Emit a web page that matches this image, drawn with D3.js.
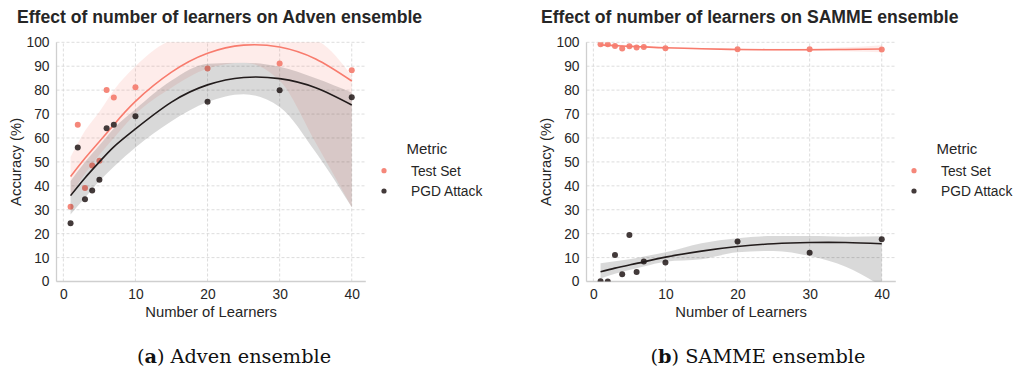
<!DOCTYPE html>
<html>
<head>
<meta charset="utf-8">
<script src="https://cdn.jsdelivr.net/npm/d3@7"></script>
<style>
  body { margin: 0; background: #fff; }
  svg { display: block; }
</style>
</head>
<body>
<div id="chart"></div>
<script>
// number of learners in the ensemble
const learners = [1, 2, 3, 4, 5, 6, 7, 10, 20, 30, 40];

// scatter values (accuracy %)
const advenTest = [31.3, 65.5, 39.1, 48.5, 50.5, 80.1, 76.9, 81.2, 89.0, 91.1, 88.3];
const advenPgd = [24.4, 56.0, 34.4, 38.0, 42.5, 64.1, 65.5, 69.1, 75.1, 80.0, 77.0];
const sammeTest = [99.2, 99.2, 98.5, 97.4, 98.4, 97.8, 98.0, 97.5, 97.1, 97.1, 97.0];
const sammePgd = [0.1, 0.0, 11.1, 3.0, 19.4, 4.0, 8.4, 7.9, 16.7, 12.0, 17.7];

// regression curves and confidence bands
const fitX = [1, 3, 5, 7, 10, 15, 20, 25, 30, 35, 40];
const advenTestFit = [43.9, 51.5, 58.5, 65.5, 75.3, 87.5, 95.4, 98.8, 98.0, 93.0, 83.8];
const advenTestLo = [36, 45, 53, 60, 70, 81, 89, 91.5, 84, 58, 31];
const advenTestHi = [52, 63, 71, 80, 90, 101, 104, 106, 104, 101, 86];
const advenPgdFit = [35.9, 43.3, 50.0, 56.3, 63.8, 75.0, 82.2, 85.3, 84.8, 81.0, 73.8];
const advenPgdLo = [28, 35, 42, 48, 56, 67, 75, 78.3, 73, 54, 31];
const advenPgdHi = [42, 50, 57, 64, 72, 84, 91, 91.5, 89.8, 85, 79];

const sammeTestFit = [98.9, 98.6, 98.3, 98.1, 97.7, 97.3, 97.0, 96.9, 96.9, 97.0, 97.2];
const sammeTestLo = [98.2, 98.1, 97.9, 97.7, 97.4, 97.0, 96.7, 96.5, 96.4, 96.3, 95.8];
const sammeTestHi = [99.6, 99.2, 98.8, 98.5, 98.0, 97.6, 97.4, 97.3, 97.4, 97.9, 98.8];
const sammePgdFit = [4.1, 5.6, 6.9, 8.2, 10.2, 12.7, 14.6, 15.8, 16.3, 16.3, 15.8];
const sammePgdLo = [1.3, 3.2, 4.8, 6.3, 8.3, 9.3, 12.2, 12.8, 10.7, 6.2, -2];
const sammePgdHi = [7.6, 8.5, 9.3, 10.5, 12.2, 16.0, 18.1, 19.0, 19.0, 18.7, 18.9];

const xTicks = [0, 10, 20, 30, 40];
const yTicks = [0, 10, 20, 30, 40, 50, 60, 70, 80, 90, 100];
const metrics = ["Test Set", "PGD Attack"];

const width = 1016, height = 370;
const sans = "'Liberation Sans', Arial, sans-serif";
const textColor = "#262626";

const colors = {
    test: { dot: "#f5877a", line: "#f87b6d", band: "#fa8072" },
    pgd: { dot: "#433a3a", line: "#221c1c", band: "#000000" }
};

const svg = d3.select("#chart").append("svg")
    .attr("width", width)
    .attr("height", height)
    .attr("viewBox", [0, 0, width, height])
    .style("font-family", sans);

svg.append("rect").attr("width", width).attr("height", height).attr("fill", "#fff");

function drawPanel(cfg) {
    const x = d3.scaleLinear().domain([-0.95, 41.95]).range([cfg.left, cfg.right]);
    const y = d3.scaleLinear().domain([0, 100]).range([281.5, 42.3]);
    const g = svg.append("g");

    const clipId = "clip-" + cfg.id;
    g.append("clipPath").attr("id", clipId)
        .append("rect")
        .attr("x", cfg.left).attr("y", y(100))
        .attr("width", cfg.right - cfg.left).attr("height", y(0) - y(100));

    // dashed grid
    g.append("g")
        .selectAll("line")
        .data(xTicks)
        .join("line")
        .attr("x1", d => x(d)).attr("x2", d => x(d))
        .attr("y1", y(0)).attr("y2", y(100))
        .attr("stroke", "#d4d4d4").attr("stroke-width", 0.8)
        .attr("stroke-dasharray", "3,2");
    g.append("g")
        .selectAll("line")
        .data(yTicks)
        .join("line")
        .attr("x1", cfg.left).attr("x2", cfg.right)
        .attr("y1", d => y(d)).attr("y2", d => y(d))
        .attr("stroke", "#d4d4d4").attr("stroke-width", 0.8)
        .attr("stroke-dasharray", "3,2");

    // axes (labels only, seaborn style)
    const xAxis = g.append("g")
        .attr("transform", `translate(0,${y(0)})`)
        .call(d3.axisBottom(x).tickValues(xTicks).tickSize(0).tickPadding(8));
    const yAxis = g.append("g")
        .attr("transform", `translate(${cfg.left},0)`)
        .call(d3.axisLeft(y).tickValues(yTicks).tickSize(0).tickPadding(7));
    [xAxis, yAxis].forEach(a => {
        a.select(".domain").attr("stroke", "#cfcfcf").attr("stroke-width", 1.3);
        a.selectAll(".tick text")
            .attr("font-family", sans)
            .attr("font-size", 13.8)
            .attr("fill", textColor);
    });
    xAxis.select(".domain").attr("d", `M${cfg.left},0H${cfg.right}`);
    yAxis.select(".domain").attr("d", `M0,${y(0)}V${y(100)}`);

    const plot = g.append("g").attr("clip-path", `url(#${clipId})`);

    const area = d3.area()
        .x(d => x(d.x))
        .y0(d => y(d.lo))
        .y1(d => y(d.hi))
        .curve(d3.curveMonotoneX);
    const line = d3.line()
        .x(d => x(d.x))
        .y(d => y(d.v))
        .curve(d3.curveNatural);

    cfg.series.forEach(s => {
        const c = colors[s.key];
        plot.append("g")
            .selectAll("circle")
            .data(learners.map((l, i) => ({ x: l, v: s.values[i] })))
            .join("circle")
            .attr("cx", d => x(d.x))
            .attr("cy", d => y(d.v))
            .attr("r", 3.0)
            .attr("fill", c.dot);
        const fit = fitX.map((fx, i) => ({ x: fx, v: s.fit[i], lo: s.lo[i], hi: s.hi[i] }));
        plot.append("path")
            .datum(fit)
            .attr("d", area)
            .attr("fill", c.band)
            .attr("fill-opacity", 0.15);
        plot.append("path")
            .datum(fit)
            .attr("d", line)
            .attr("fill", "none")
            .attr("stroke", c.line)
            .attr("stroke-width", 1.6);
    });

    // title
    svg.append("text")
        .attr("x", cfg.titleX).attr("y", 23)
        .attr("font-size", 17.6).attr("font-weight", "bold")
        .attr("fill", textColor)
        .text(cfg.title);

    // axis labels
    svg.append("text")
        .attr("x", (cfg.left + cfg.right) / 2).attr("y", 316.5)
        .attr("text-anchor", "middle")
        .attr("font-size", 14.8).attr("fill", textColor)
        .text("Number of Learners");
    svg.append("text")
        .attr("transform", `translate(${cfg.left - 36},${(y(0) + y(100)) / 2}) rotate(-90)`)
        .attr("text-anchor", "middle")
        .attr("font-size", 14.8).attr("fill", textColor)
        .text("Accuracy (%)");

    // legend
    const legend = svg.append("g").attr("transform", `translate(${cfg.legendX},0)`);
    legend.append("text")
        .attr("x", 22.5).attr("y", 153.5)
        .attr("font-size", 15).attr("fill", textColor)
        .text("Metric");
    legend.selectAll(".item")
        .data(metrics)
        .join("g")
        .attr("class", "item")
        .attr("transform", (d, i) => `translate(0,${170.7 + i * 20.3})`)
        .call(it => {
            it.append("circle")
                .attr("r", 2.6)
                .attr("fill", (d, i) => i === 0 ? colors.test.dot : colors.pgd.dot);
            it.append("text")
                .attr("x", 27).attr("y", 4.8)
                .attr("font-size", 13.8).attr("fill", textColor)
                .text(d => d);
        });

    // caption
    const cap = svg.append("text")
        .attr("x", cfg.captionX).attr("y", 363)
        .attr("text-anchor", "middle")
        .attr("font-family", "'DejaVu Serif', serif")
        .attr("font-size", 19.3)
        .attr("fill", "#111");
    cap.append("tspan").text("(");
    cap.append("tspan").attr("font-weight", "bold").text(cfg.letter);
    cap.append("tspan").text(") " + cfg.caption);
}

drawPanel({
    id: "adven", left: 56.5, right: 365.8, titleX: 17, legendX: 384, captionX: 234,
    title: "Effect of number of learners on Adven ensemble",
    letter: "a", caption: "Adven ensemble",
    series: [
        { key: "test", values: advenTest, fit: advenTestFit, lo: advenTestLo, hi: advenTestHi },
        { key: "pgd", values: advenPgd, fit: advenPgdFit, lo: advenPgdLo, hi: advenPgdHi }
    ]
});

drawPanel({
    id: "samme", left: 586.5, right: 895.8, titleX: 541, legendX: 914, captionX: 758,
    title: "Effect of number of learners on SAMME ensemble",
    letter: "b", caption: "SAMME ensemble",
    series: [
        { key: "test", values: sammeTest, fit: sammeTestFit, lo: sammeTestLo, hi: sammeTestHi },
        { key: "pgd", values: sammePgd, fit: sammePgdFit, lo: sammePgdLo, hi: sammePgdHi }
    ]
});
</script>
</body>
</html>
